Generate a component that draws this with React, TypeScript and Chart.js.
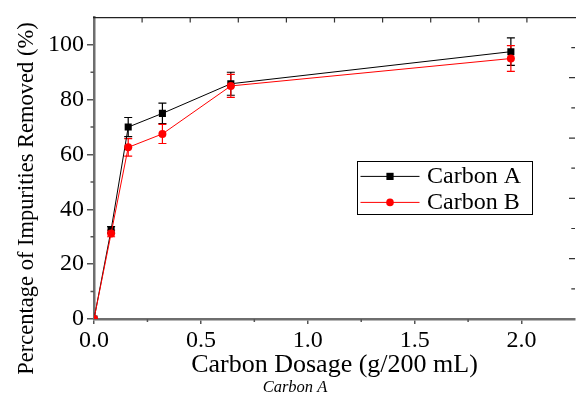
import React, { useEffect, useRef } from 'react';
import { Chart, registerables } from 'chart.js';

Chart.register(...registerables);

// ---- data ----
const dosage = [0, 0.08, 0.16, 0.32, 0.64, 1.95];
const carbonA = [0, 32.5, 70, 75, 85.8, 97.5];
const carbonAErr = [0, 1.2, 3.5, 3.7, 4.2, 5];
const carbonB = [0, 31.2, 62.6, 67.5, 85, 95];
const carbonBErr = [0, 1.2, 3.2, 3.5, 4.2, 4.7];
const seriesLabels = ['Carbon A', 'Carbon B'];
const xTickValues = [0, 0.5, 1.0, 1.5, 2.0];
const yTickValues = [0, 20, 40, 60, 80, 100];
const xMinorTicks = [0.25, 0.75, 1.25, 1.75];
const yMinorTicks = [10, 30, 50, 70, 90];
const frameTicks = [1, 2, 3, 4, 5, 6, 7, 8, 9];
const errorSets = [carbonAErr, carbonBErr];

const FAMILY = "'Liberation Serif', 'Times New Roman', serif";

const errorBarPlugin = {
  id: 'errorBars',
  beforeDatasetsDraw(chart: any) {
    const { ctx, scales } = chart;
    const x = scales.x;
    const y = scales.y;
    ctx.save();
    chart.data.datasets.forEach((ds: any, di: number) => {
      const errs = errorSets[di];
      ctx.strokeStyle = ds.borderColor;
      ctx.lineWidth = 1.2;
      ds.data.forEach((p: any, i: number) => {
        const e = errs[i];
        if (!e) return;
        const px = x.getPixelForValue(p.x);
        const top = y.getPixelForValue(p.y + e);
        const bot = y.getPixelForValue(p.y - e);
        ctx.beginPath();
        ctx.moveTo(px, top);
        ctx.lineTo(px, bot);
        ctx.moveTo(px - 4, top);
        ctx.lineTo(px + 4, top);
        ctx.moveTo(px - 4, bot);
        ctx.lineTo(px + 4, bot);
        ctx.stroke();
      });
    });
    ctx.restore();
  },
};

const frameTicksPlugin = {
  id: 'frameTicks',
  afterDraw(chart: any) {
    const { ctx, chartArea: a, scales } = chart;
    ctx.save();
    ctx.strokeStyle = '#555';
    ctx.lineWidth = 1.5;
    ctx.beginPath();
    yMinorTicks.forEach((v) => {
      const py = scales.y.getPixelForValue(v);
      ctx.moveTo(a.left - 3.5, py);
      ctx.lineTo(a.left, py);
    });
    xMinorTicks.forEach((v) => {
      const px = scales.x.getPixelForValue(v);
      ctx.moveTo(px, a.bottom);
      ctx.lineTo(px, a.bottom + 3);
    });
    ctx.stroke();
    ctx.strokeStyle = '#333';
    ctx.lineWidth = 1.2;
    ctx.beginPath();
    frameTicks.forEach((v) => {
      const px = scales.x2.getPixelForValue(v);
      ctx.moveTo(px, a.top);
      ctx.lineTo(px, a.top + 5);
    });
    frameTicks.forEach((v) => {
      const py = scales.y2.getPixelForValue(v);
      const len = v % 2 === 0 ? 6 : 3.7;
      ctx.moveTo(a.right, py);
      ctx.lineTo(a.right - len, py);
    });
    ctx.stroke();
    ctx.restore();
  },
};

const legendBoxPlugin = {
  id: 'legendBox',
  afterDraw(chart: any) {
    const { ctx, chartArea: a } = chart;
    const bx = a.left + 263;
    const by = a.top + 144;
    const bw = 175;
    const bh = 53;
    ctx.save();
    ctx.strokeStyle = '#000';
    ctx.lineWidth = 1;
    ctx.strokeRect(Math.round(bx) + 0.5, Math.round(by) + 0.5, bw, bh);
    chart.data.datasets.forEach((ds: any, i: number) => {
      const cy = by + 15 + i * 26;
      ctx.strokeStyle = ds.borderColor;
      ctx.lineWidth = 1;
      ctx.beginPath();
      ctx.moveTo(bx + 3.5, cy);
      ctx.lineTo(bx + 62.5, cy);
      ctx.stroke();
      ctx.fillStyle = ds.backgroundColor;
      const mx = bx + 33;
      if (ds.pointStyle === 'rect') {
        const s = 3.6;
        ctx.fillRect(mx - s, cy - s, 2 * s, 2 * s);
      } else {
        ctx.beginPath();
        ctx.arc(mx, cy, 3.8, 0, Math.PI * 2);
        ctx.fill();
      }
      ctx.fillStyle = '#000';
      ctx.font = `24px ${FAMILY}`;
      ctx.textBaseline = 'middle';
      ctx.textAlign = 'left';
      ctx.fillText(ds.label, bx + 70, cy);
    });
    ctx.restore();
  },
};

export default function App() {
  const ref = useRef<HTMLCanvasElement | null>(null);

  useEffect(() => {
    if (!ref.current) return;
    const chart = new Chart(ref.current, {
      type: 'line',
      data: {
        datasets: [
          {
            label: seriesLabels[0],
            data: dosage.map((x, i) => ({ x, y: carbonA[i] })),
            borderColor: '#000000',
            backgroundColor: '#000000',
            borderWidth: 1,
            pointStyle: 'rect',
            pointRadius: 5,
            pointBorderWidth: 0,
            clip: 0,
            order: 1,
          },
          {
            label: seriesLabels[1],
            data: dosage.map((x, i) => ({ x, y: carbonB[i] })),
            borderColor: '#ff0000',
            backgroundColor: '#ff0000',
            borderWidth: 1,
            pointStyle: 'circle',
            pointRadius: 4,
            pointBorderWidth: 0,
            clip: 0,
            order: 0,
          },
        ],
      },
      options: {
        responsive: false,
        animation: false,
        layout: { padding: { left: 12, right: 2, top: 0, bottom: 0 } },
        scales: {
          x: {
            type: 'linear',
            position: 'bottom',
            min: 0,
            max: 2.25,
            afterBuildTicks: (s: any) => {
              s.ticks = xTickValues.map((value) => ({ value }));
            },
            afterFit: (s: any) => {
              s.height = 60.1;
            },
            ticks: {
              autoSkip: false,
              maxRotation: 0,
              padding: 2,
              color: '#000',
              font: { family: FAMILY, size: 24, lineHeight: 1.2 },
              callback: (v: any) => Number(v).toFixed(1),
            },
            grid: { drawOnChartArea: false, tickLength: 5, color: '#555', lineWidth: 1.5 },
            border: { color: '#6e6e6e', width: 2.5 },
            title: {
              display: true,
              text: 'Carbon Dosage (g/200 mL)',
              color: '#000',
              font: { family: FAMILY, size: 26, lineHeight: 1 },
              padding: { top: 0, bottom: 1.1 },
            },
          },
          y: {
            type: 'linear',
            position: 'left',
            min: 0,
            max: 110,
            afterBuildTicks: (s: any) => {
              s.ticks = yTickValues.map((value) => ({ value }));
            },
            afterFit: (s: any) => {
              s.width = 55.5;
            },
            ticks: {
              autoSkip: false,
              padding: 3,
              color: '#000',
              font: { family: FAMILY, size: 24, lineHeight: 1.2 },
            },
            grid: { drawOnChartArea: false, tickLength: 7, color: '#555', lineWidth: 1.5 },
            border: { color: '#6e6e6e', width: 2.5 },
          },
          x2: {
            type: 'linear',
            position: 'top',
            min: 0,
            max: 10,
            ticks: { display: false },
            grid: { display: false },
            border: { display: true, color: '#222', width: 1.2 },
            afterFit: (s: any) => {
              s.height = 15;
            },
          },
          y2: {
            type: 'linear',
            position: 'right',
            min: 0,
            max: 10,
            display: false,
          },
        },
        plugins: {
          legend: { display: false },
          tooltip: { enabled: false },
          title: {
            display: true,
            position: 'left',
            text: 'Percentage of Impurities Removed (%)',
            color: '#000',
            font: { family: FAMILY, size: 22.5, lineHeight: 1, weight: 'normal' },
            padding: { top: 4, bottom: 0 },
          },
          subtitle: {
            display: true,
            position: 'bottom',
            text: 'Carbon A',
            color: '#000',
            font: { family: FAMILY, size: 16.5, style: 'italic', lineHeight: 1 },
            padding: { top: 0, bottom: 1.4 },
          },
        },
      } as any,
      plugins: [errorBarPlugin, frameTicksPlugin, legendBoxPlugin],
    });
    return () => chart.destroy();
  }, []);

  return (
    <div
      style={{
        position: 'fixed',
        left: 0,
        top: 0,
        width: 577,
        height: 397,
        overflow: 'hidden',
        background: '#fff',
      }}
    >
      <canvas ref={ref} width={580} height={397} style={{ display: 'block' }} />
    </div>
  );
}
